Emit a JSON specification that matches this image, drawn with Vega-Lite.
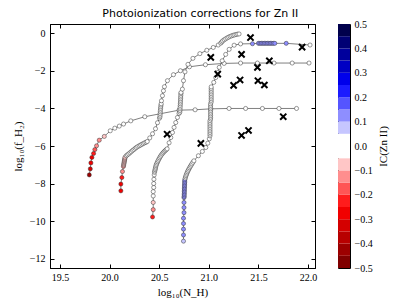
{
 "$schema": "https://vega.github.io/schema/vega-lite/v6.json",
 "padding": {"left": 11, "top": 7, "right": 5, "bottom": 5},
 "background": "white",
 "title": {"text": "Photoionization corrections for Zn II", "anchor": "middle", "frame": "bounds", "font": "DejaVu Sans", "fontSize": 11, "fontWeight": "normal", "color": "black", "offset": 0},
 "datasets": {
  "tracks": [
   {"t":1,"i":1,"nh":19.796,"fh":-7.54,"ic":-0.42},
   {"t":1,"i":2,"nh":19.806,"fh":-7.22,"ic":-0.32},
   {"t":1,"i":3,"nh":19.812,"fh":-6.90,"ic":-0.28},
   {"t":1,"i":4,"nh":19.822,"fh":-6.61,"ic":-0.27},
   {"t":1,"i":5,"nh":19.839,"fh":-6.40,"ic":-0.22},
   {"t":1,"i":6,"nh":19.852,"fh":-6.19,"ic":-0.17},
   {"t":1,"i":7,"nh":19.869,"fh":-5.99,"ic":-0.12},
   {"t":1,"i":8,"nh":19.896,"fh":-5.69,"ic":-0.12},
   {"t":1,"i":9,"nh":19.947,"fh":-5.49,"ic":-0.08},
   {"t":1,"i":10,"nh":20.007,"fh":-5.19,"ic":0},
   {"t":1,"i":11,"nh":20.053,"fh":-5.05,"ic":0},
   {"t":1,"i":12,"nh":20.098,"fh":-4.94,"ic":0},
   {"t":1,"i":13,"nh":20.141,"fh":-4.83,"ic":0},
   {"t":1,"i":14,"nh":20.214,"fh":-4.66,"ic":0},
   {"t":1,"i":15,"nh":20.355,"fh":-4.44,"ic":0},
   {"t":1,"i":16,"nh":20.70,"fh":-4.09,"ic":0},
   {"t":1,"i":17,"nh":20.862,"fh":-4.07,"ic":0},
   {"t":1,"i":18,"nh":21.02,"fh":-4.02,"ic":0},
   {"t":1,"i":19,"nh":21.204,"fh":-4.0,"ic":0},
   {"t":1,"i":20,"nh":21.371,"fh":-4.0,"ic":0},
   {"t":1,"i":21,"nh":21.54,"fh":-4.0,"ic":0},
   {"t":1,"i":22,"nh":21.707,"fh":-4.0,"ic":0},
   {"t":1,"i":23,"nh":21.884,"fh":-4.0,"ic":0},

   {"t":2,"i":1,"nh":20.114,"fh":-8.39,"ic":-0.28},
   {"t":2,"i":2,"nh":20.114,"fh":-8.03,"ic":-0.27},
   {"t":2,"i":3,"nh":20.124,"fh":-7.68,"ic":-0.22},
   {"t":2,"i":4,"nh":20.13,"fh":-7.36,"ic":-0.13},
   {"t":2,"i":5,"nh":20.14,"fh":-7.09,"ic":-0.12},
   {"t":2,"i":6,"nh":20.142,"fh":-7.02,"ic":-0.08},
   {"t":2,"i":7,"nh":20.144,"fh":-6.96,"ic":-0.08},
   {"t":2,"i":8,"nh":20.146,"fh":-6.90,"ic":-0.08},
   {"t":2,"i":9,"nh":20.148,"fh":-6.84,"ic":-0.08},
   {"t":2,"i":10,"nh":20.15,"fh":-6.78,"ic":-0.08},
   {"t":2,"i":11,"nh":20.152,"fh":-6.72,"ic":-0.08},
   {"t":2,"i":12,"nh":20.154,"fh":-6.66,"ic":-0.08},
   {"t":2,"i":13,"nh":20.156,"fh":-6.60,"ic":-0.08},
   {"t":2,"i":14,"nh":20.168,"fh":-6.52,"ic":0},
   {"t":2,"i":15,"nh":20.18,"fh":-6.47,"ic":0},
   {"t":2,"i":16,"nh":20.193,"fh":-6.42,"ic":0},
   {"t":2,"i":17,"nh":20.206,"fh":-6.36,"ic":0},
   {"t":2,"i":18,"nh":20.219,"fh":-6.30,"ic":0},
   {"t":2,"i":19,"nh":20.232,"fh":-6.24,"ic":0},
   {"t":2,"i":20,"nh":20.245,"fh":-6.19,"ic":0},
   {"t":2,"i":21,"nh":20.258,"fh":-6.13,"ic":0},
   {"t":2,"i":22,"nh":20.27,"fh":-6.08,"ic":0},
   {"t":2,"i":23,"nh":20.284,"fh":-6.03,"ic":0},
   {"t":2,"i":24,"nh":20.298,"fh":-5.99,"ic":0},
   {"t":2,"i":25,"nh":20.312,"fh":-5.95,"ic":0},
   {"t":2,"i":26,"nh":20.326,"fh":-5.91,"ic":0},
   {"t":2,"i":27,"nh":20.34,"fh":-5.87,"ic":0},
   {"t":2,"i":28,"nh":20.354,"fh":-5.83,"ic":0},
   {"t":2,"i":29,"nh":20.368,"fh":-5.80,"ic":0},
   {"t":2,"i":30,"nh":20.38,"fh":-5.76,"ic":0},
   {"t":2,"i":31,"nh":20.405,"fh":-5.57,"ic":0},
   {"t":2,"i":32,"nh":20.433,"fh":-5.35,"ic":0},
   {"t":2,"i":33,"nh":20.463,"fh":-5.08,"ic":0},
   {"t":2,"i":34,"nh":20.483,"fh":-4.76,"ic":0},
   {"t":2,"i":35,"nh":20.503,"fh":-4.52,"ic":0},
   {"t":2,"i":36,"nh":20.508,"fh":-4.45,"ic":0},
   {"t":2,"i":37,"nh":20.509,"fh":-4.36,"ic":0},
   {"t":2,"i":38,"nh":20.51,"fh":-4.27,"ic":0},
   {"t":2,"i":39,"nh":20.511,"fh":-4.18,"ic":0},
   {"t":2,"i":40,"nh":20.512,"fh":-4.09,"ic":0},
   {"t":2,"i":41,"nh":20.514,"fh":-4.00,"ic":0},
   {"t":2,"i":42,"nh":20.516,"fh":-3.91,"ic":0},
   {"t":2,"i":43,"nh":20.518,"fh":-3.82,"ic":0},
   {"t":2,"i":44,"nh":20.52,"fh":-3.75,"ic":0},
   {"t":2,"i":45,"nh":20.523,"fh":-3.59,"ic":0},
   {"t":2,"i":46,"nh":20.533,"fh":-3.32,"ic":0},
   {"t":2,"i":47,"nh":20.543,"fh":-3.06,"ic":0},
   {"t":2,"i":48,"nh":20.553,"fh":-2.84,"ic":0},
   {"t":2,"i":49,"nh":20.583,"fh":-2.52,"ic":0},
   {"t":2,"i":50,"nh":20.644,"fh":-2.20,"ic":0},
   {"t":2,"i":51,"nh":20.714,"fh":-1.99,"ic":0},
   {"t":2,"i":52,"nh":20.805,"fh":-1.78,"ic":0},
   {"t":2,"i":53,"nh":20.966,"fh":-1.67,"ic":0},
   {"t":2,"i":54,"nh":21.154,"fh":-1.60,"ic":0},
   {"t":2,"i":55,"nh":21.32,"fh":-1.58,"ic":0},
   {"t":2,"i":56,"nh":21.49,"fh":-1.58,"ic":0},
   {"t":2,"i":57,"nh":21.657,"fh":-1.58,"ic":0},
   {"t":2,"i":58,"nh":21.84,"fh":-1.58,"ic":0},
   {"t":2,"i":59,"nh":22.01,"fh":-1.58,"ic":0},

   {"t":3,"i":1,"nh":20.433,"fh":-9.78,"ic":-0.22},
   {"t":3,"i":2,"nh":20.44,"fh":-9.39,"ic":-0.13},
   {"t":3,"i":3,"nh":20.44,"fh":-9.01,"ic":-0.08},
   {"t":3,"i":4,"nh":20.44,"fh":-8.66,"ic":0},
   {"t":3,"i":5,"nh":20.44,"fh":-8.43,"ic":0},
   {"t":3,"i":6,"nh":20.445,"fh":-8.21,"ic":0},
   {"t":3,"i":7,"nh":20.445,"fh":-8.0,"ic":0},
   {"t":3,"i":8,"nh":20.447,"fh":-7.77,"ic":0},
   {"t":3,"i":9,"nh":20.45,"fh":-7.54,"ic":0},
   {"t":3,"i":10,"nh":20.453,"fh":-7.40,"ic":0},
   {"t":3,"i":11,"nh":20.456,"fh":-7.33,"ic":0},
   {"t":3,"i":12,"nh":20.459,"fh":-7.26,"ic":0},
   {"t":3,"i":13,"nh":20.462,"fh":-7.19,"ic":0},
   {"t":3,"i":14,"nh":20.465,"fh":-7.12,"ic":0},
   {"t":3,"i":15,"nh":20.468,"fh":-7.05,"ic":0},
   {"t":3,"i":16,"nh":20.472,"fh":-6.98,"ic":0},
   {"t":3,"i":17,"nh":20.478,"fh":-6.91,"ic":0},
   {"t":3,"i":18,"nh":20.484,"fh":-6.84,"ic":0},
   {"t":3,"i":19,"nh":20.49,"fh":-6.77,"ic":0},
   {"t":3,"i":20,"nh":20.497,"fh":-6.70,"ic":0},
   {"t":3,"i":21,"nh":20.504,"fh":-6.63,"ic":0},
   {"t":3,"i":22,"nh":20.512,"fh":-6.56,"ic":0},
   {"t":3,"i":23,"nh":20.52,"fh":-6.49,"ic":0},
   {"t":3,"i":24,"nh":20.53,"fh":-6.42,"ic":0},
   {"t":3,"i":25,"nh":20.54,"fh":-6.36,"ic":0},
   {"t":3,"i":26,"nh":20.55,"fh":-6.30,"ic":0},
   {"t":3,"i":27,"nh":20.56,"fh":-6.25,"ic":0},
   {"t":3,"i":28,"nh":20.57,"fh":-6.20,"ic":0},
   {"t":3,"i":29,"nh":20.58,"fh":-6.15,"ic":0},
   {"t":3,"i":30,"nh":20.60,"fh":-5.83,"ic":0},
   {"t":3,"i":31,"nh":20.617,"fh":-5.55,"ic":0},
   {"t":3,"i":32,"nh":20.634,"fh":-5.28,"ic":0},
   {"t":3,"i":33,"nh":20.65,"fh":-5.01,"ic":0},
   {"t":3,"i":34,"nh":20.667,"fh":-4.75,"ic":0},
   {"t":3,"i":35,"nh":20.684,"fh":-4.48,"ic":0},
   {"t":3,"i":36,"nh":20.70,"fh":-4.27,"ic":0},
   {"t":3,"i":37,"nh":20.708,"fh":-4.20,"ic":0},
   {"t":3,"i":38,"nh":20.709,"fh":-4.11,"ic":0},
   {"t":3,"i":39,"nh":20.71,"fh":-4.02,"ic":0},
   {"t":3,"i":40,"nh":20.711,"fh":-3.93,"ic":0},
   {"t":3,"i":41,"nh":20.712,"fh":-3.84,"ic":0},
   {"t":3,"i":42,"nh":20.713,"fh":-3.75,"ic":0},
   {"t":3,"i":43,"nh":20.714,"fh":-3.66,"ic":0},
   {"t":3,"i":44,"nh":20.715,"fh":-3.57,"ic":0},
   {"t":3,"i":45,"nh":20.716,"fh":-3.48,"ic":0},
   {"t":3,"i":46,"nh":20.717,"fh":-3.39,"ic":0},
   {"t":3,"i":47,"nh":20.718,"fh":-3.30,"ic":0},
   {"t":3,"i":48,"nh":20.719,"fh":-3.21,"ic":0},
   {"t":3,"i":49,"nh":20.72,"fh":-3.15,"ic":0},
   {"t":3,"i":50,"nh":20.734,"fh":-2.97,"ic":0},
   {"t":3,"i":51,"nh":20.745,"fh":-2.52,"ic":0},
   {"t":3,"i":52,"nh":20.76,"fh":-2.05,"ic":0},
   {"t":3,"i":53,"nh":20.79,"fh":-1.65,"ic":0},
   {"t":3,"i":54,"nh":20.84,"fh":-1.33,"ic":0},
   {"t":3,"i":55,"nh":20.91,"fh":-1.08,"ic":0},
   {"t":3,"i":56,"nh":20.98,"fh":-0.90,"ic":0},
   {"t":3,"i":57,"nh":21.045,"fh":-0.75,"ic":0},
   {"t":3,"i":58,"nh":21.095,"fh":-0.62,"ic":0},
   {"t":3,"i":59,"nh":21.12,"fh":-0.52,"ic":0},
   {"t":3,"i":60,"nh":21.13,"fh":-0.46,"ic":0},
   {"t":3,"i":61,"nh":21.14,"fh":-0.40,"ic":0},
   {"t":3,"i":62,"nh":21.155,"fh":-0.34,"ic":0},
   {"t":3,"i":63,"nh":21.17,"fh":-0.29,"ic":0},
   {"t":3,"i":64,"nh":21.185,"fh":-0.24,"ic":0},
   {"t":3,"i":65,"nh":21.20,"fh":-0.20,"ic":0},
   {"t":3,"i":66,"nh":21.215,"fh":-0.16,"ic":0},
   {"t":3,"i":67,"nh":21.23,"fh":-0.13,"ic":0},
   {"t":3,"i":68,"nh":21.245,"fh":-0.10,"ic":0},
   {"t":3,"i":69,"nh":21.26,"fh":-0.08,"ic":0},
   {"t":3,"i":70,"nh":21.275,"fh":-0.06,"ic":0},
   {"t":3,"i":71,"nh":21.29,"fh":-0.04,"ic":0},
   {"t":3,"i":72,"nh":21.305,"fh":-0.03,"ic":0},

   {"t":4,"i":1,"nh":20.745,"fh":-11.07,"ic":0.08},
   {"t":4,"i":2,"nh":20.745,"fh":-10.74,"ic":0.12},
   {"t":4,"i":3,"nh":20.745,"fh":-10.43,"ic":0.12},
   {"t":4,"i":4,"nh":20.745,"fh":-10.13,"ic":0.12},
   {"t":4,"i":5,"nh":20.745,"fh":-9.85,"ic":0.12},
   {"t":4,"i":6,"nh":20.75,"fh":-9.55,"ic":0.12},
   {"t":4,"i":7,"nh":20.75,"fh":-9.28,"ic":0.12},
   {"t":4,"i":8,"nh":20.75,"fh":-9.01,"ic":0.12},
   {"t":4,"i":9,"nh":20.75,"fh":-8.75,"ic":0.12},
   {"t":4,"i":10,"nh":20.752,"fh":-8.68,"ic":0.12},
   {"t":4,"i":11,"nh":20.752,"fh":-8.60,"ic":0.12},
   {"t":4,"i":12,"nh":20.753,"fh":-8.52,"ic":0.12},
   {"t":4,"i":13,"nh":20.753,"fh":-8.44,"ic":0.12},
   {"t":4,"i":14,"nh":20.754,"fh":-8.36,"ic":0.12},
   {"t":4,"i":15,"nh":20.754,"fh":-8.28,"ic":0.12},
   {"t":4,"i":16,"nh":20.755,"fh":-8.20,"ic":0.12},
   {"t":4,"i":17,"nh":20.755,"fh":-8.12,"ic":0.12},
   {"t":4,"i":18,"nh":20.756,"fh":-8.04,"ic":0.12},
   {"t":4,"i":19,"nh":20.757,"fh":-7.96,"ic":0.12},
   {"t":4,"i":20,"nh":20.757,"fh":-7.88,"ic":0.12},
   {"t":4,"i":21,"nh":20.758,"fh":-7.80,"ic":0.12},
   {"t":4,"i":22,"nh":20.762,"fh":-7.72,"ic":0},
   {"t":4,"i":23,"nh":20.766,"fh":-7.65,"ic":0},
   {"t":4,"i":24,"nh":20.77,"fh":-7.58,"ic":0},
   {"t":4,"i":25,"nh":20.775,"fh":-7.51,"ic":0},
   {"t":4,"i":26,"nh":20.78,"fh":-7.44,"ic":0},
   {"t":4,"i":27,"nh":20.786,"fh":-7.37,"ic":0},
   {"t":4,"i":28,"nh":20.792,"fh":-7.30,"ic":0},
   {"t":4,"i":29,"nh":20.799,"fh":-7.23,"ic":0},
   {"t":4,"i":30,"nh":20.806,"fh":-7.16,"ic":0},
   {"t":4,"i":31,"nh":20.814,"fh":-7.09,"ic":0},
   {"t":4,"i":32,"nh":20.822,"fh":-7.02,"ic":0},
   {"t":4,"i":33,"nh":20.83,"fh":-6.95,"ic":0},
   {"t":4,"i":34,"nh":20.84,"fh":-6.87,"ic":0},
   {"t":4,"i":35,"nh":20.85,"fh":-6.79,"ic":0},
   {"t":4,"i":36,"nh":20.895,"fh":-6.52,"ic":0},
   {"t":4,"i":37,"nh":20.935,"fh":-6.29,"ic":0},
   {"t":4,"i":38,"nh":20.97,"fh":-6.08,"ic":0},
   {"t":4,"i":39,"nh":20.99,"fh":-5.85,"ic":0},
   {"t":4,"i":40,"nh":21.005,"fh":-5.62,"ic":0},
   {"t":4,"i":41,"nh":21.012,"fh":-5.46,"ic":0},
   {"t":4,"i":42,"nh":21.012,"fh":-5.37,"ic":0},
   {"t":4,"i":43,"nh":21.012,"fh":-5.28,"ic":0},
   {"t":4,"i":44,"nh":21.012,"fh":-5.19,"ic":0},
   {"t":4,"i":45,"nh":21.012,"fh":-5.10,"ic":0},
   {"t":4,"i":46,"nh":21.012,"fh":-5.01,"ic":0},
   {"t":4,"i":47,"nh":21.012,"fh":-4.92,"ic":0},
   {"t":4,"i":48,"nh":21.012,"fh":-4.83,"ic":0},
   {"t":4,"i":49,"nh":21.012,"fh":-4.74,"ic":0},
   {"t":4,"i":50,"nh":21.012,"fh":-4.65,"ic":0},
   {"t":4,"i":51,"nh":21.018,"fh":-4.56,"ic":0},
   {"t":4,"i":52,"nh":21.018,"fh":-4.47,"ic":0},
   {"t":4,"i":53,"nh":21.018,"fh":-4.38,"ic":0},
   {"t":4,"i":54,"nh":21.018,"fh":-4.29,"ic":0},
   {"t":4,"i":55,"nh":21.018,"fh":-4.20,"ic":0},
   {"t":4,"i":56,"nh":21.018,"fh":-4.11,"ic":0},
   {"t":4,"i":57,"nh":21.018,"fh":-4.02,"ic":0},
   {"t":4,"i":58,"nh":21.018,"fh":-3.93,"ic":0},
   {"t":4,"i":59,"nh":21.018,"fh":-3.84,"ic":0},
   {"t":4,"i":60,"nh":21.018,"fh":-3.75,"ic":0},
   {"t":4,"i":61,"nh":21.024,"fh":-3.66,"ic":0},
   {"t":4,"i":62,"nh":21.024,"fh":-3.57,"ic":0},
   {"t":4,"i":63,"nh":21.024,"fh":-3.48,"ic":0},
   {"t":4,"i":64,"nh":21.024,"fh":-3.39,"ic":0},
   {"t":4,"i":65,"nh":21.024,"fh":-3.30,"ic":0},
   {"t":4,"i":66,"nh":21.024,"fh":-3.21,"ic":0},
   {"t":4,"i":67,"nh":21.024,"fh":-3.12,"ic":0},
   {"t":4,"i":68,"nh":21.024,"fh":-3.03,"ic":0},
   {"t":4,"i":69,"nh":21.024,"fh":-2.94,"ic":0},
   {"t":4,"i":70,"nh":21.024,"fh":-2.85,"ic":0},
   {"t":4,"i":71,"nh":21.05,"fh":-2.61,"ic":0},
   {"t":4,"i":72,"nh":21.07,"fh":-2.35,"ic":0},
   {"t":4,"i":73,"nh":21.09,"fh":-2.08,"ic":0},
   {"t":4,"i":74,"nh":21.105,"fh":-1.81,"ic":0},
   {"t":4,"i":75,"nh":21.135,"fh":-1.46,"ic":0},
   {"t":4,"i":76,"nh":21.17,"fh":-1.12,"ic":0},
   {"t":4,"i":77,"nh":21.205,"fh":-0.85,"ic":0},
   {"t":4,"i":78,"nh":21.255,"fh":-0.63,"ic":0},
   {"t":4,"i":79,"nh":21.32,"fh":-0.56,"ic":0},
   {"t":4,"i":80,"nh":21.44,"fh":-0.55,"ic":0.12},
   {"t":4,"i":81,"nh":21.50,"fh":-0.53,"ic":0.12},
   {"t":4,"i":82,"nh":21.515,"fh":-0.53,"ic":0.12},
   {"t":4,"i":83,"nh":21.53,"fh":-0.53,"ic":0.12},
   {"t":4,"i":84,"nh":21.545,"fh":-0.53,"ic":0.12},
   {"t":4,"i":85,"nh":21.56,"fh":-0.53,"ic":0.12},
   {"t":4,"i":86,"nh":21.575,"fh":-0.53,"ic":0.12},
   {"t":4,"i":87,"nh":21.59,"fh":-0.53,"ic":0.12},
   {"t":4,"i":88,"nh":21.605,"fh":-0.53,"ic":0.12},
   {"t":4,"i":89,"nh":21.62,"fh":-0.53,"ic":0.12},
   {"t":4,"i":90,"nh":21.635,"fh":-0.53,"ic":0.12},
   {"t":4,"i":91,"nh":21.65,"fh":-0.53,"ic":0.12},
   {"t":4,"i":92,"nh":21.665,"fh":-0.53,"ic":0.12},
   {"t":4,"i":93,"nh":21.78,"fh":-0.53,"ic":0.12},
   {"t":4,"i":94,"nh":22.02,"fh":-0.62,"ic":0}
  ],
  "obs": [
   {"nh":21.02,"fh":-1.28},
   {"nh":20.58,"fh":-5.37},
   {"nh":20.92,"fh":-5.86},
   {"nh":21.42,"fh":-0.22},
   {"nh":21.94,"fh":-0.73},
   {"nh":21.33,"fh":-1.12},
   {"nh":21.61,"fh":-1.46},
   {"nh":21.49,"fh":-1.81},
   {"nh":21.09,"fh":-2.17},
   {"nh":21.25,"fh":-2.77},
   {"nh":21.315,"fh":-2.48},
   {"nh":21.495,"fh":-2.52},
   {"nh":21.56,"fh":-2.75},
   {"nh":21.75,"fh":-4.44},
   {"nh":21.33,"fh":-5.44},
   {"nh":21.40,"fh":-5.17}
  ],
  "cbar": [
   {"lo":-0.5,"hi":-0.45,"ic":-0.475},
   {"lo":-0.45,"hi":-0.4,"ic":-0.425},
   {"lo":-0.4,"hi":-0.35,"ic":-0.375},
   {"lo":-0.35,"hi":-0.3,"ic":-0.325},
   {"lo":-0.3,"hi":-0.25,"ic":-0.275},
   {"lo":-0.25,"hi":-0.2,"ic":-0.225},
   {"lo":-0.2,"hi":-0.15,"ic":-0.175},
   {"lo":-0.15,"hi":-0.1,"ic":-0.125},
   {"lo":-0.1,"hi":-0.05,"ic":-0.075},
   {"lo":-0.05,"hi":0.05,"ic":0},
   {"lo":0.05,"hi":0.1,"ic":0.075},
   {"lo":0.1,"hi":0.15,"ic":0.125},
   {"lo":0.15,"hi":0.2,"ic":0.175},
   {"lo":0.2,"hi":0.25,"ic":0.225},
   {"lo":0.25,"hi":0.3,"ic":0.275},
   {"lo":0.3,"hi":0.35,"ic":0.325},
   {"lo":0.35,"hi":0.4,"ic":0.375},
   {"lo":0.4,"hi":0.45,"ic":0.425},
   {"lo":0.45,"hi":0.5,"ic":0.475}
  ]
 },
 "hconcat": [
  {
   "width": 265,
   "height": 244,
   "layer": [
    {
     "data": {"name": "tracks"},
     "mark": {"type": "line", "color": "#808080", "strokeWidth": 1, "clip": true},
     "encoding": {
      "x": {"field": "nh", "type": "quantitative", "scale": {"domain": [19.4, 22.07], "nice": false, "zero": false}, "axis": {"values": [19.5, 20, 20.5, 21, 21.5, 22], "format": ".1f", "title": "log₁₀(N_H)", "labelPadding": 8, "titlePadding": 4}},
      "y": {"field": "fh", "type": "quantitative", "scale": {"domain": [-12.5, 0.5], "nice": false, "zero": false}, "axis": {"values": [-12, -10, -8, -6, -4, -2, 0], "title": "log₁₀(f_H₂)", "labelPadding": 9, "titlePadding": 6}},
      "detail": {"field": "t", "type": "nominal"},
      "order": {"field": "i", "type": "quantitative"}
     }
    },
    {
     "data": {"name": "tracks"},
     "mark": {"type": "point", "shape": "circle", "filled": true, "size": 17, "stroke": "#333333", "strokeWidth": 0.5, "opacity": 1, "clip": true},
     "encoding": {
      "x": {"field": "nh", "type": "quantitative", "scale": {"domain": [19.4, 22.07], "nice": false, "zero": false}, "axis": null},
      "y": {"field": "fh", "type": "quantitative", "scale": {"domain": [-12.5, 0.5], "nice": false, "zero": false}, "axis": null},
      "color": {"field": "ic", "type": "quantitative", "legend": null,
       "scale": {"type": "threshold",
        "domain": [-0.45, -0.4, -0.35, -0.3, -0.25, -0.2, -0.15, -0.1, -0.05, 0.05, 0.1, 0.15, 0.2, 0.25, 0.3, 0.35, 0.4, 0.45],
        "range": ["#800000", "#9c0000", "#b80000", "#d40000", "#f10000", "#ff1c1c", "#ff5555", "#ff8e8e", "#ffc6c6", "#ffffff", "#c6c6ff", "#8e8eff", "#5555ff", "#1c1cff", "#0000eb", "#0000c3", "#00009c", "#000074", "#00004c"]}}
     }
    },
    {
     "data": {"name": "obs"},
     "mark": {"type": "point", "shape": "M-1,-1L1,1M-1,1L1,-1", "filled": false, "color": "black", "strokeWidth": 2, "size": 38, "opacity": 1, "clip": true},
     "encoding": {
      "x": {"field": "nh", "type": "quantitative", "scale": {"domain": [19.4, 22.07], "nice": false, "zero": false}, "axis": {"orient": "top", "values": [19.5, 20, 20.5, 21, 21.5, 22], "labels": false, "title": null}},
      "y": {"field": "fh", "type": "quantitative", "scale": {"domain": [-12.5, 0.5], "nice": false, "zero": false}, "axis": {"orient": "right", "values": [-12, -10, -8, -6, -4, -2, 0], "labels": false, "title": null}}
     }
    }
   ],
   "resolve": {"scale": {"x": "independent", "y": "independent"}}
  },
  {
   "width": 12,
   "height": 244,
   "data": {"name": "cbar"},
   "mark": {"type": "rect", "strokeWidth": 0},
   "encoding": {
    "x": {"datum": 0, "type": "quantitative", "scale": {"domain": [0, 1], "nice": false, "zero": false}, "axis": null},
    "x2": {"datum": 1},
    "y": {"field": "lo", "type": "quantitative", "scale": {"domain": [-0.5, 0.5], "nice": false, "zero": false},
     "axis": {"orient": "right", "values": [-0.5, -0.4, -0.3, -0.2, -0.1, 0, 0.1, 0.2, 0.3, 0.4, 0.5], "format": ".1f", "title": "IC(Zn II)", "ticks": false, "tickSize": 0, "domain": false, "labelPadding": 4, "titlePadding": 16, "titleAngle": 270}},
    "y2": {"field": "hi"},
    "color": {"field": "ic", "type": "quantitative", "legend": null,
     "scale": {"type": "threshold",
      "domain": [-0.45, -0.4, -0.35, -0.3, -0.25, -0.2, -0.15, -0.1, -0.05, 0.05, 0.1, 0.15, 0.2, 0.25, 0.3, 0.35, 0.4, 0.45],
      "range": ["#800000", "#9c0000", "#b80000", "#d40000", "#f10000", "#ff1c1c", "#ff5555", "#ff8e8e", "#ffc6c6", "#ffffff", "#c6c6ff", "#8e8eff", "#5555ff", "#1c1cff", "#0000eb", "#0000c3", "#00009c", "#000074", "#00004c"]}}
   }
  }
 ],
 "spacing": 19,
 "config": {
  "view": {"stroke": "black", "strokeWidth": 1},
  "axis": {"domainColor": "black", "domainWidth": 1, "tickColor": "black", "tickSize": -4, "tickWidth": 1, "grid": false, "labelFont": "Liberation Serif", "labelFontSize": 10, "labelColor": "black", "titleFont": "Liberation Serif", "titleFontSize": 11, "titleFontWeight": "normal", "titleColor": "black"}
 }
}
